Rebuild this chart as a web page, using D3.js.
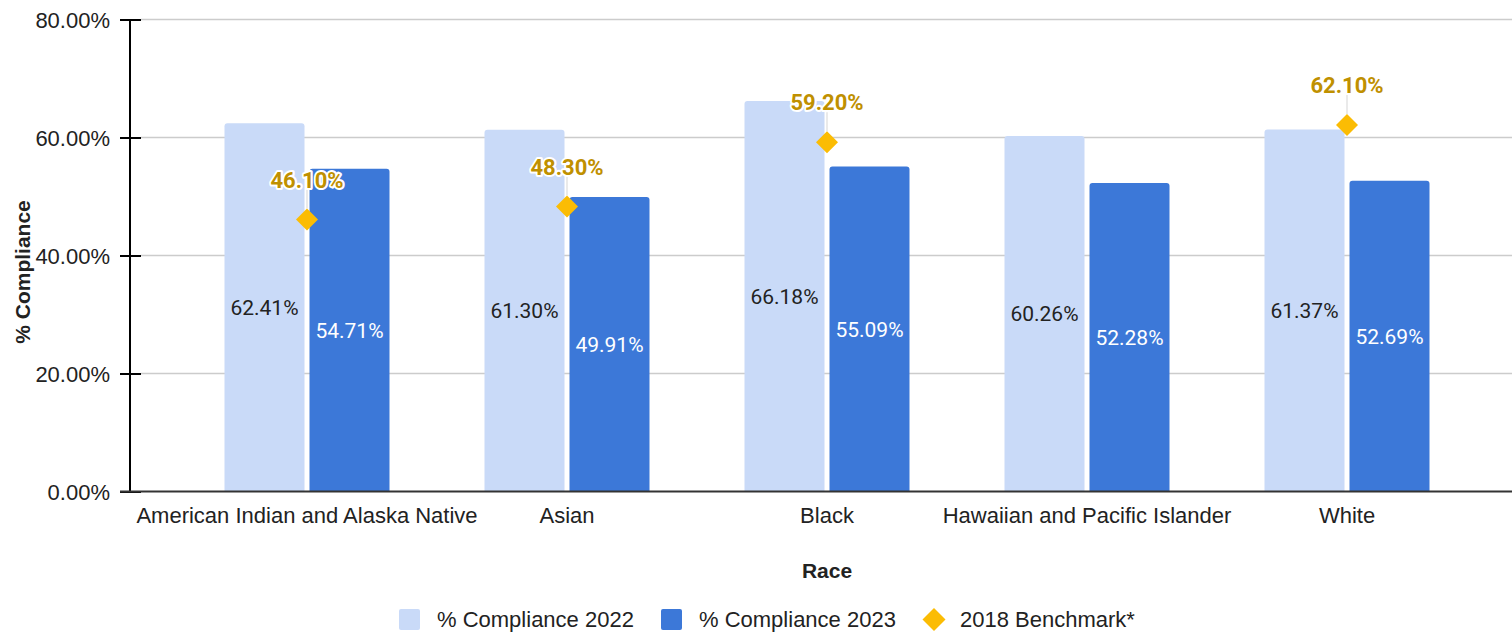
<!DOCTYPE html>
<html>
<head>
<meta charset="utf-8">
<script src="https://cdn.jsdelivr.net/npm/d3@7"></script>
<style>
  html, body { margin: 0; padding: 0; background: #fff; }
  svg { display: block; }
</style>
</head>
<body>
<svg id="chart" width="1512" height="632"></svg>
<script>
// Compliance by race, 2022 vs 2023, with the 2018 benchmark
const categories = [
  "American Indian and Alaska Native",
  "Asian",
  "Black",
  "Hawaiian and Pacific Islander",
  "White"
];
const compliance2022 = [62.41, 61.30, 66.18, 60.26, 61.37];
const compliance2023 = [54.71, 49.91, 55.09, 52.28, 52.69];
const benchmark2018 = [46.10, 48.30, 59.20, null, 62.10];
const yTicks = [0, 20, 40, 60, 80];
const seriesNames = ["% Compliance 2022", "% Compliance 2023", "2018 Benchmark*"];

const colors = { light: "#c9daf8", dark: "#3c78d8", gold: "#fbbc04", goldText: "#bf9000" };
const ARIAL = "Arial, 'Liberation Sans', sans-serif";
const ROBOTO = "Roboto, Arial, sans-serif";

const svg = d3.select("#chart");

const plot = { left: 130, right: 1512, top: 19.5, bottom: 491.5 };

const y = d3.scaleLinear().domain([0, 80]).range([plot.bottom, plot.top]);
const x0 = d3.scaleBand().domain(categories).range([177, 1477]).padding(0);
const x1 = d3.scaleBand().domain(["2022", "2023"])
  .range([x0.bandwidth() / 2 - 82.5, x0.bandwidth() / 2 + 82.5])
  .paddingInner(0.0588).paddingOuter(0);

// gridlines
svg.append("g")
  .selectAll("line")
  .data(yTicks.filter(d => d > 0))
  .join("line")
  .attr("x1", 141).attr("x2", plot.right)
  .attr("y1", d => y(d)).attr("y2", d => y(d))
  .attr("stroke", "#cccccc").attr("stroke-width", 1.5);

// y axis with ticks crossing the axis line
const yAxis = d3.axisLeft(y).tickValues(yTicks)
  .tickFormat(d => d3.format(".2f")(d) + "%")
  .tickSize(10).tickPadding(10);
const gy = svg.append("g").attr("transform", `translate(${plot.left},0)`).call(yAxis);
gy.select(".domain").attr("stroke", "#000").attr("stroke-width", 2)
  .attr("d", `M0,${plot.top}V${plot.bottom}`);
gy.selectAll(".tick line").attr("x1", -10).attr("x2", 11).attr("stroke", "#000").attr("stroke-width", 2);
gy.selectAll(".tick text")
  .attr("font-family", ARIAL).attr("font-size", 22).attr("fill", "#222")
  .attr("x", -20).attr("dy", "0.36em");

// bars
const groups = svg.append("g").selectAll("g")
  .data(categories.map((c, i) => ({ c, i })))
  .join("g")
  .attr("transform", d => `translate(${x0(d.c)},0)`);

function roundTopPath(x, yTop, w, yBase, r) {
  const p = d3.path();
  p.moveTo(x, yBase);
  p.lineTo(x, yTop + r);
  p.arcTo(x, yTop, x + r, yTop, r);
  p.lineTo(x + w - r, yTop);
  p.arcTo(x + w, yTop, x + w, yTop + r, r);
  p.lineTo(x + w, yBase);
  p.closePath();
  return p.toString();
}

const barSeries = [
  { key: "2022", values: compliance2022, fill: colors.light, text: "#222" },
  { key: "2023", values: compliance2023, fill: colors.dark, text: "#ffffff" }
];

barSeries.forEach(s => {
  groups.append("path")
    .attr("d", d => roundTopPath(x1(s.key), y(s.values[d.i]), x1.bandwidth(), y(0), 3))
    .attr("fill", s.fill);
  groups.append("text")
    .attr("x", x1(s.key) + x1.bandwidth() / 2)
    .attr("y", d => (y(s.values[d.i]) + y(0)) / 2)
    .attr("dy", "0.36em")
    .attr("text-anchor", "middle")
    .attr("font-family", ROBOTO).attr("font-size", 21)
    .attr("fill", s.text)
    .text(d => d3.format(".2f")(s.values[d.i]) + "%");
});

// baseline
svg.append("line")
  .attr("x1", 120).attr("x2", plot.right)
  .attr("y1", y(0)).attr("y2", y(0))
  .attr("stroke", "#333").attr("stroke-width", 2);

// x category labels
svg.append("g").selectAll("text")
  .data(categories)
  .join("text")
  .attr("x", d => x0(d) + x0.bandwidth() / 2)
  .attr("y", 523)
  .attr("text-anchor", "middle")
  .attr("font-family", ARIAL).attr("font-size", 22).attr("fill", "#222")
  .text(d => d);

// benchmark markers with leader lines and labels
const bench = categories.map((c, i) => ({ c, v: benchmark2018[i] })).filter(d => d.v != null);
const bg = svg.append("g").selectAll("g").data(bench).join("g")
  .attr("transform", d => `translate(${x0(d.c) + x0.bandwidth() / 2},${y(d.v)})`);
bg.append("line")
  .attr("x1", 0).attr("x2", 0).attr("y1", -11).attr("y2", -30)
  .attr("stroke", "#e3e3e3").attr("stroke-width", 1.5);
bg.append("path")
  .attr("d", "M0,-11L11,0L0,11L-11,0Z")
  .attr("fill", colors.gold);
bg.append("text")
  .attr("y", -32)
  .attr("text-anchor", "middle")
  .attr("font-family", ROBOTO).attr("font-weight", 700).attr("font-size", 22)
  .attr("fill", colors.goldText)
  .attr("stroke", "#fff").attr("stroke-width", 4).attr("stroke-linejoin", "round")
  .attr("paint-order", "stroke")
  .text(d => d3.format(".2f")(d.v) + "%");

// axis titles
svg.append("text")
  .attr("x", 827).attr("y", 578)
  .attr("text-anchor", "middle")
  .attr("font-family", ARIAL).attr("font-weight", 700).attr("font-size", 21).attr("fill", "#222")
  .text("Race");
svg.append("text")
  .attr("transform", "translate(30,272) rotate(-90)")
  .attr("text-anchor", "middle")
  .attr("font-family", ARIAL).attr("font-weight", 700).attr("font-size", 21).attr("fill", "#222")
  .text("% Compliance");

// legend
const legendItems = [
  { name: seriesNames[0], type: "rect", color: colors.light, x: 399 },
  { name: seriesNames[1], type: "rect", color: colors.dark, x: 661 },
  { name: seriesNames[2], type: "diamond", color: colors.gold, x: 922 }
];
const lg = svg.append("g").selectAll("g").data(legendItems).join("g")
  .attr("transform", d => `translate(${d.x},619.5)`);
lg.filter(d => d.type === "rect").append("rect")
  .attr("x", 0).attr("y", -10.5).attr("width", 21).attr("height", 21).attr("rx", 2)
  .attr("fill", d => d.color);
lg.filter(d => d.type === "diamond").append("path")
  .attr("d", "M12,-11.5L23.5,0L12,11.5L0.5,0Z")
  .attr("fill", d => d.color);
lg.append("text")
  .attr("x", 38)
  .attr("y", 7.5)
  .attr("font-family", ARIAL).attr("font-size", 22).attr("fill", "#222")
  .text(d => d.name);
</script>
</body>
</html>
